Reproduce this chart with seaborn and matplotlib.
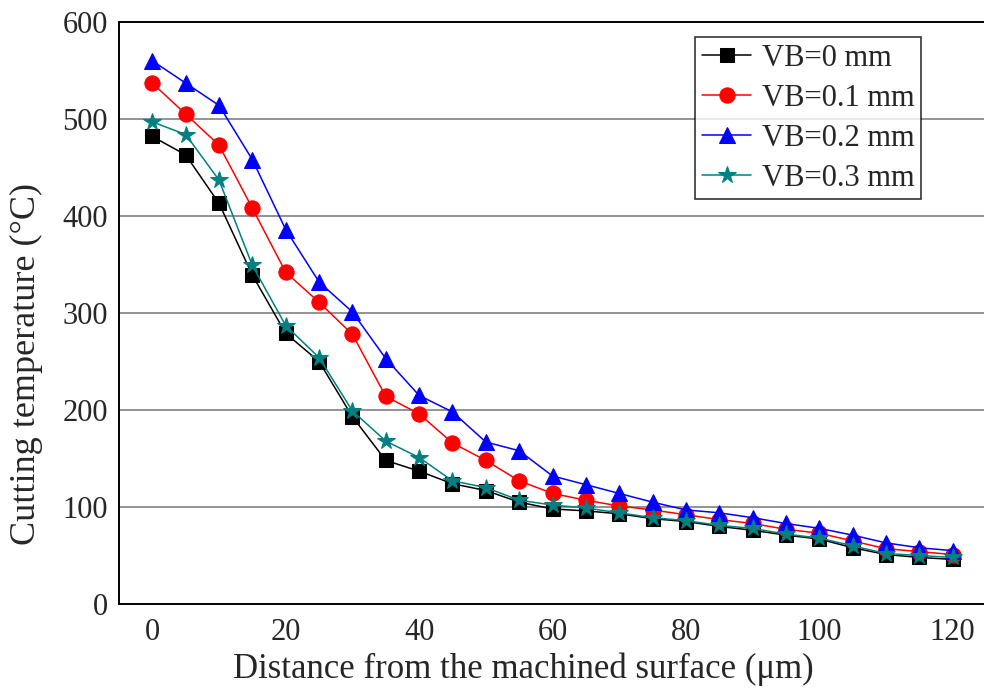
import matplotlib
matplotlib.use("Agg")
import matplotlib.pyplot as plt
import seaborn as sns
import pandas as pd
from matplotlib.ticker import MultipleLocator

distance = [0, 5, 10, 15, 20, 25, 30, 35, 40, 45, 50, 55, 60, 65, 70, 75, 80, 85, 90, 95, 100, 105, 110, 115, 120]
vb0 = [482, 463, 413, 339, 279, 250, 193, 148, 137, 124, 117, 105, 98, 96, 93, 88, 85, 80, 76, 71, 67, 58, 51, 48, 46]
vb01 = [537, 505, 473, 408, 342, 311, 278, 214, 196, 166, 148, 127, 114, 107, 101, 97, 92, 87, 83, 77, 73, 65, 57, 54, 51]
vb02 = [560, 537, 514, 458, 386, 332, 301, 253, 215, 198, 167, 158, 132, 123, 114, 105, 97, 94, 89, 83, 78, 71, 63, 58, 55]
vb03 = [497, 484, 437, 349, 287, 254, 199, 168, 151, 127, 120, 107, 102, 99, 94, 89, 86, 81, 78, 72, 68, 60, 52, 50, 48]
labels = ["VB=0 mm", "VB=0.1 mm", "VB=0.2 mm", "VB=0.3 mm"]
colors = ["#000000", "#FF0000", "#0000FF", "#008080"]
markers = ["s", "o", "^", "*"]
msizes = [10, 11, 11, 13]

sns.set_style("white")
plt.rcParams['font.family'] = ['Liberation Serif', 'DejaVu Serif']
plt.rcParams['mathtext.fontset'] = 'stix'

fig = plt.figure(figsize=(9.84, 6.92), dpi=100)
ax = fig.add_axes([119/984, (692-604)/692, (986-119)/984, (604-22)/692])

series = [vb0, vb01, vb02, vb03]
for vals, lab, c, m, ms in zip(series, labels, colors, markers, msizes):
    df = pd.DataFrame({"x": distance, "y": vals})
    sns.lineplot(data=df, x="x", y="y", ax=ax, color=c, marker=m, markersize=ms,
                 markeredgecolor=c, linewidth=1.1, label=lab, zorder=3)

ax.set_xlim(-5, 125)
ax.set_ylim(0, 600)
ax.xaxis.set_major_locator(MultipleLocator(20))
ax.xaxis.set_minor_locator(MultipleLocator(10))
ax.yaxis.set_major_locator(MultipleLocator(100))
ax.yaxis.set_minor_locator(MultipleLocator(50))
ax.grid(False)
for yv in [100, 200, 300, 400, 500]:
    ax.axhline(yv, color="#808080", linewidth=1.2, zorder=1)

ax.tick_params(axis="both", which="major", direction="in", length=10, width=1.3,
               labelsize=22, top=False, right=False)
ax.tick_params(axis="x", which="major", pad=10)
ax.tick_params(axis="y", which="major", pad=8)
ax.tick_params(axis="both", which="minor", direction="in", length=6, width=1.1,
               top=False, right=False)
for s in ax.spines.values():
    s.set_color("black")
    s.set_linewidth(1.4)

ax.set_xlabel("Distance from the machined surface (μm)", fontsize=25)
ax.set_ylabel("Cutting temperature (°C)", fontsize=26)
ax.xaxis.set_label_coords((523-119)/867, -0.084)
ax.yaxis.set_label_coords((43-119)/867, (604-364)/582)

leg = ax.legend(loc="upper right", bbox_to_anchor=((921-119)/867, (604-37)/582),
                fontsize=22, frameon=True, fancybox=False, shadow=False,
                handlelength=1.6, handletextpad=0.35, borderpad=0.22, labelspacing=0.36,
                borderaxespad=0)
leg.get_frame().set_edgecolor("black")
leg.get_frame().set_linewidth(1.2)

fig.savefig("out.png", dpi=100)
